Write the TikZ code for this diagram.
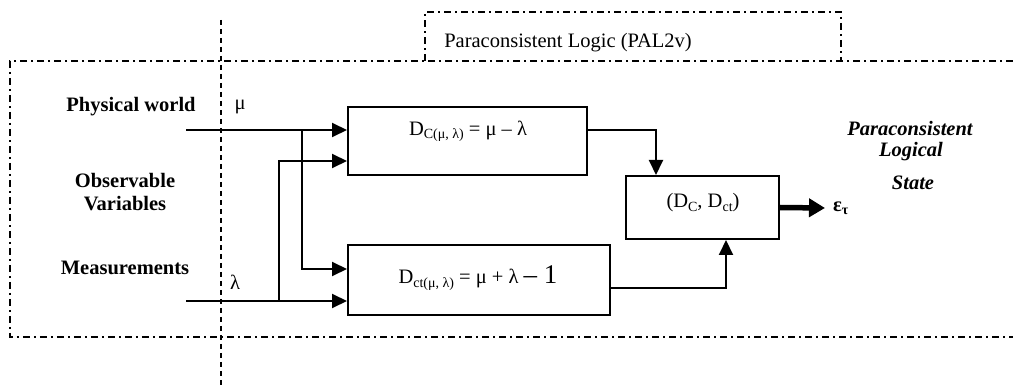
\documentclass[tikz,border=0pt]{standalone}
\usepackage{fontspec}
\setmainfont{Liberation Serif}
\usetikzlibrary{arrows.meta,calc}
\newcommand\lowsub[1]{\raisebox{-0.35ex}{\fontsize{14}{16}\selectfont #1}}
\begin{document}
\begin{tikzpicture}[x=1pt,y=-1pt,
  font=\fontsize{20.5}{24}\selectfont,
  blk/.style={draw, line width=2pt, inner sep=0pt},
  wire/.style={line width=2pt, -{Triangle[length=15pt,width=14pt]}},
  outarrow/.style={line width=5.5pt, -{Triangle[length=16pt,width=18pt]}},
  dashdot/.style={line width=1.5pt, dash pattern=on 7pt off 4pt on 2pt off 4pt},
  vdash/.style={line width=1.5pt, dash pattern=on 5pt off 4pt},
  lbl/.style={inner sep=0pt},
  blbl/.style={inner sep=0pt, font=\fontsize{20.5}{24}\selectfont\bfseries},
  ilbl/.style={inner sep=0pt, font=\fontsize{20.5}{24}\selectfont\bfseries\itshape}
]
\useasboundingbox (0,0) rectangle (1013,387);
\fill[white] (0,0) rectangle (1013,387);

% frames
\draw[dashdot] (1013,61) -- (10,61) -- (10,337) -- (1013,337);
\draw[dashdot] (425,61) -- (425,12) -- (841,12) -- (841,61);
\draw[vdash] (221,20) -- (221,387);
\node[lbl] (pal) at (568,43) {Paraconsistent Logic (PAL2v)};

% left labels
\node[blbl] (phys) at (131,107) {Physical world};
\node[blbl] (obs) at (125,180) {Observable};
\node[blbl] (var) at (125,204) {Variables};
\node[blbl] (meas) at (125,268) {Measurements};
\node[lbl] (mu) at (240,107) {μ};
\node[lbl] (lam) at (235,282) {λ};

% boxes
\node[blk, minimum width=239pt, minimum height=68pt] (dc) at (467.5,141) {};
\node[blk, minimum width=262pt, minimum height=70pt] (dct) at (479,280) {};
\node[blk, minimum width=153pt, minimum height=63pt] (st) at (702.5,207.5) {};
\node[lbl] (dctxt) at (468,131) {D\lowsub{C(μ, λ)} = μ – λ};
\node[lbl] (dcttxt) at (478,278) {D\lowsub{ct(μ, λ)} = μ + λ {\fontsize{27}{30}\selectfont – 1}};
\node[lbl] (sttxt) at (703,203) {(D\lowsub{C}, D\lowsub{ct})};

% right labels
\node[ilbl] (par) at (910,128) {Paraconsistent};
\node[ilbl] (logi) at (911,152) {Logical};
\node[ilbl] (stat) at (913,183) {State};
\node[lbl, anchor=west] (eps) at (833,208) {\textbf{ε}\lowsub{\textbf{τ}}};

% connectors
\coordinate (muin) at (186,130);
\coordinate (lamin) at (186,301);
\coordinate (b1) at (302,130);
\coordinate (b1e) at (302,269);
\coordinate (b2) at (279,301);
\coordinate (b2e) at (279,161);
\draw[wire] (muin) -- (muin -| dc.west);
\draw[wire] (lamin) -- (lamin -| dct.west);
\draw[wire] (b1) -- (b1e) -- (b1e -| dct.west);
\draw[wire] (b2) -- (b2e) -- (b2e -| dc.west);
\draw[wire] (dc.east |- muin) -| ($(st.north)+(-46.5,0)$);
\draw[wire] ($(dct.east)+(0,8)$) -| ($(st.south)+(23.5,0)$);
\draw[outarrow] (st.east) -- ($(eps.west)+(-8,0)$);
\end{tikzpicture}
\end{document}
